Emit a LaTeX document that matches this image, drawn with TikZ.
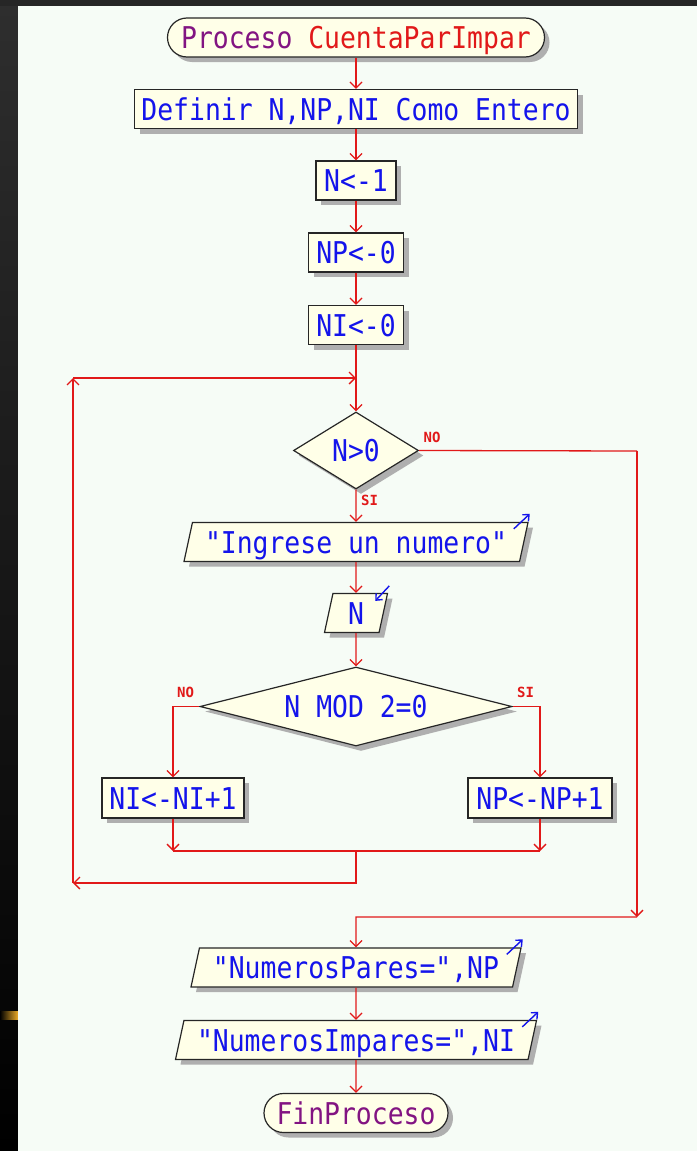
\documentclass[tikz,border=0pt]{standalone}
\usepackage{fontspec}
\usetikzlibrary{shapes.geometric,shadows,arrows.meta,calc}
\newfontfamily\psefont[FakeStretch=0.88]{DejaVu Sans Mono}
\newfontfamily\lblfont{DejaVu Sans Mono Bold}
\definecolor{canvas}{RGB}{246,252,246}
\definecolor{cream}{RGB}{255,255,232}
\definecolor{pblue}{RGB}{20,20,235}
\definecolor{ppurple}{RGB}{130,20,130}
\definecolor{pred}{RGB}{225,25,25}
\definecolor{shadowc}{RGB}{175,175,175}
\definecolor{glint}{RGB}{235,170,40}
\begin{document}
\begin{tikzpicture}[x=1pt,y=-1pt,
  shd/.style={drop shadow={shadow xshift=5pt,shadow yshift=-5pt,fill=shadowc,opacity=1}},
  base/.style={draw=black!85,line width=1.2pt,fill=cream,shd,inner sep=0pt,
    font=\psefont\fontsize{30}{30}\selectfont,text=pblue,text height=22pt,text depth=0pt},
  term/.style={base,rectangle,rounded corners=19.5pt,minimum height=39pt,text=ppurple},
  proc/.style={base,rectangle,minimum height=39pt},
  io/.style={base,trapezium,trapezium left angle=69,trapezium right angle=111,
    trapezium stretches body,minimum height=39pt},
  dec/.style={base,diamond},
  conn/.style={draw=pred,line width=1.3pt},
  arr/.style={conn,-{Straight Barb[length=6pt,width=12pt]}},
  lbl/.style={text=pred,font=\lblfont\fontsize{14}{14}\selectfont,inner sep=0pt},
  icon/.style={draw=pblue,line width=1.4pt,-{Straight Barb[length=5pt,width=9pt]}}
]
% background
\useasboundingbox (0,0) rectangle (697,1151);
\fill[black!85] (0,0) rectangle (697,1151);
\shade[top color=black!82,bottom color=black] (0,6) rectangle (18,1151);
\shade[left color=black,right color=glint] (0,1011) rectangle (18,1019);
\fill[canvas] (18,6) rectangle (697,1151);

% nodes
\node[term,minimum width=377pt] (start) at (356,37.5) {Proceso \textcolor{pred}{CuentaParImpar}};
\node[proc,minimum width=443pt] (def) at (356,109) {Definir N,NP,NI Como Entero};
\node[proc,minimum width=80pt] (n1) at (356,180.5) {N<-1};
\node[proc,minimum width=95pt] (np0) at (356,252.5) {NP<-0};
\node[proc,minimum width=95pt] (ni0) at (356,325) {NI<-0};
\node[dec,aspect=1.6,minimum width=125pt,minimum height=77pt] (d1) at (356,450.5) {N>0};
\node[io,minimum width=344pt] (ing) at (356,542) {"Ingrese un numero"};
\node[io,minimum width=63pt] (readN) at (356,613) {N};
\node[dec,aspect=4,minimum width=312pt,minimum height=79pt] (d2) at (356,706.5) {N MOD 2=0};
\node[proc,minimum width=142pt,minimum height=40pt] (b1) at (173,798) {NI<-NI+1};
\node[proc,minimum width=144pt,minimum height=40pt] (b2) at (540,798) {NP<-NP+1};
\node[io,minimum width=330pt] (pares) at (356,967.5) {"NumerosPares=",NP};
\node[io,minimum width=361pt] (impares) at (356,1040) {"NumerosImpares=",NI};
\node[term,minimum width=184pt] (fin) at (356,1113) {FinProceso};

% labels
\node[lbl] (l1no) at (432,437.5) {NO};
\node[lbl] (l1si) at (369.5,500) {SI};
\node[lbl] (l2no) at (185.5,692.5) {NO};
\node[lbl] (l2si) at (525.5,692.5) {SI};

% junction coordinates
\coordinate (loopT) at (356,378);
\coordinate (loopTL) at (73,378);
\coordinate (loopBL) at (73,883);
\coordinate (jm) at (356,851);
\coordinate (jmb) at (356,883);
\coordinate (jl) at (173,851);
\coordinate (jr) at (540,851);
\coordinate (noR) at (637,451);
\coordinate (noRB) at (637,917);
\coordinate (noL) at (356,917);

% connectors
\draw[arr] (start.south) -- (def.north);
\draw[arr] (def.south) -- (n1.north);
\draw[arr] (n1.south) -- (np0.north);
\draw[arr] (np0.south) -- (ni0.north);
\draw[arr] (ni0.south) -- (d1.north);
\draw[arr] (d1.south) -- (ing.north);
\draw[arr] (ing.south) -- (readN.north);
\draw[arr] (readN.south) -- (d2.north);
\draw[arr] (d2.west) -| (b1.north);
\draw[arr] (d2.east) -| (b2.north);
\draw[arr] (b1.south) -- (jl);
\draw[arr] (b2.south) -- (jr);
\draw[conn] (jl) -- (jr);
\draw[arr] (jm) -- (jmb) -- (loopBL);
\draw[arr] (loopBL) -- (loopTL);
\draw[arr] (loopTL) -- (loopT);
\draw[conn] (d1.east) -- (noR);
\draw[arr] (noR) -- (noRB);
\draw[arr] (noRB) -- (noL) -- (pares.north);
\draw[arr] (pares.south) -- (impares.north);
\draw[arr] (impares.south) -- (fin.north);

% io icons
\draw[icon] ($(ing.top right corner)+(-15,7)$) -- ($(ing.top right corner)+(1,-8)$);
\draw[icon] ($(pares.top right corner)+(-15,7)$) -- ($(pares.top right corner)+(1,-8)$);
\draw[icon] ($(impares.top right corner)+(-15,7)$) -- ($(impares.top right corner)+(1,-8)$);
\draw[icon] ($(readN.top right corner)+(1,-7)$) -- ($(readN.top right corner)+(-13,8)$);
\end{tikzpicture}
\end{document}
